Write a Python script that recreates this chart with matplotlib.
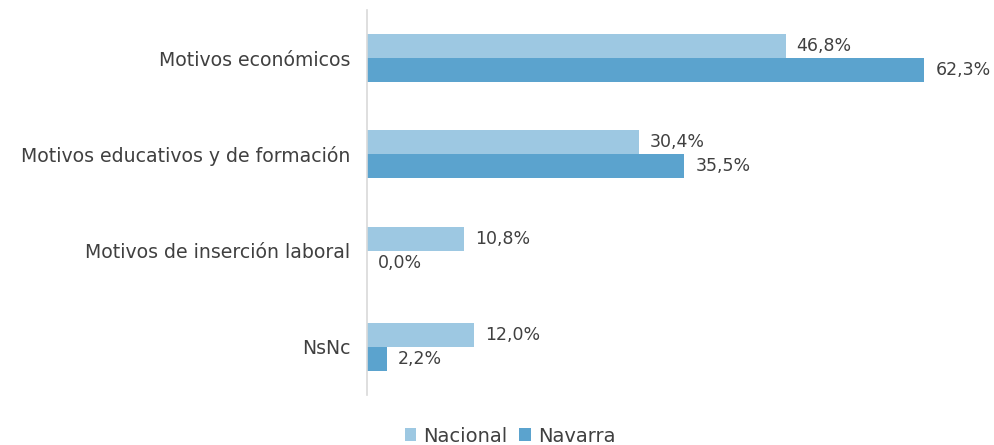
import matplotlib
matplotlib.use("Agg")
import matplotlib.pyplot as plt
import numpy as np

categories = ["Motivos económicos", "Motivos educativos y de formación",
              "Motivos de inserción laboral", "NsNc"]
nacional = [46.8, 30.4, 10.8, 12.0]
navarra = [62.3, 35.5, 0.0, 2.2]
series_names = ["Nacional", "Navarra"]

c_nac = "#9DC8E2"
c_nav = "#5BA3CE"
txt = "#404040"

plt.rcParams['font.family'] = ['DejaVu Sans']

fig = plt.figure(figsize=(9.95, 4.45), dpi=100)
ax = fig.add_axes([367/995, (445-395)/445, 626/995, 385/445])

y = np.arange(len(categories))
h = 0.25
b1 = ax.barh(y - h/2, nacional, height=h, color=c_nac, label=series_names[0])
b2 = ax.barh(y + h/2, navarra, height=h, color=c_nav, label=series_names[1])

ax.set_xlim(0, 70)
ax.set_ylim(3.5, -0.5)

for bars, vals in ((b1, nacional), (b2, navarra)):
    for bar, v in zip(bars, vals):
        ax.annotate(f"{v:.1f}%".replace(".", ","),
                    (v, bar.get_y() + bar.get_height()/2),
                    xytext=(8, 0), textcoords="offset points",
                    va="center", ha="left", fontsize=12.5, color=txt)

ax.set_yticks(y)
ax.set_yticklabels(categories, fontsize=13.6, color=txt)
ax.tick_params(axis='y', length=0, pad=12)
ax.set_xticks([])
for s in ("top", "right", "bottom"):
    ax.spines[s].set_visible(False)
ax.spines["left"].set_color("#D9D9D9")
ax.spines["left"].set_linewidth(1.2)

leg = fig.legend(handles=[b1, b2], labels=series_names, loc="center",
                 bbox_to_anchor=(510/995, 1 - 436/445), ncol=2, frameon=False,
                 fontsize=14, handlelength=0.6, handleheight=0.6,
                 handletextpad=0.35, columnspacing=0.6)
for t in leg.get_texts():
    t.set_color(txt)

fig.savefig("out.png", dpi=100)
